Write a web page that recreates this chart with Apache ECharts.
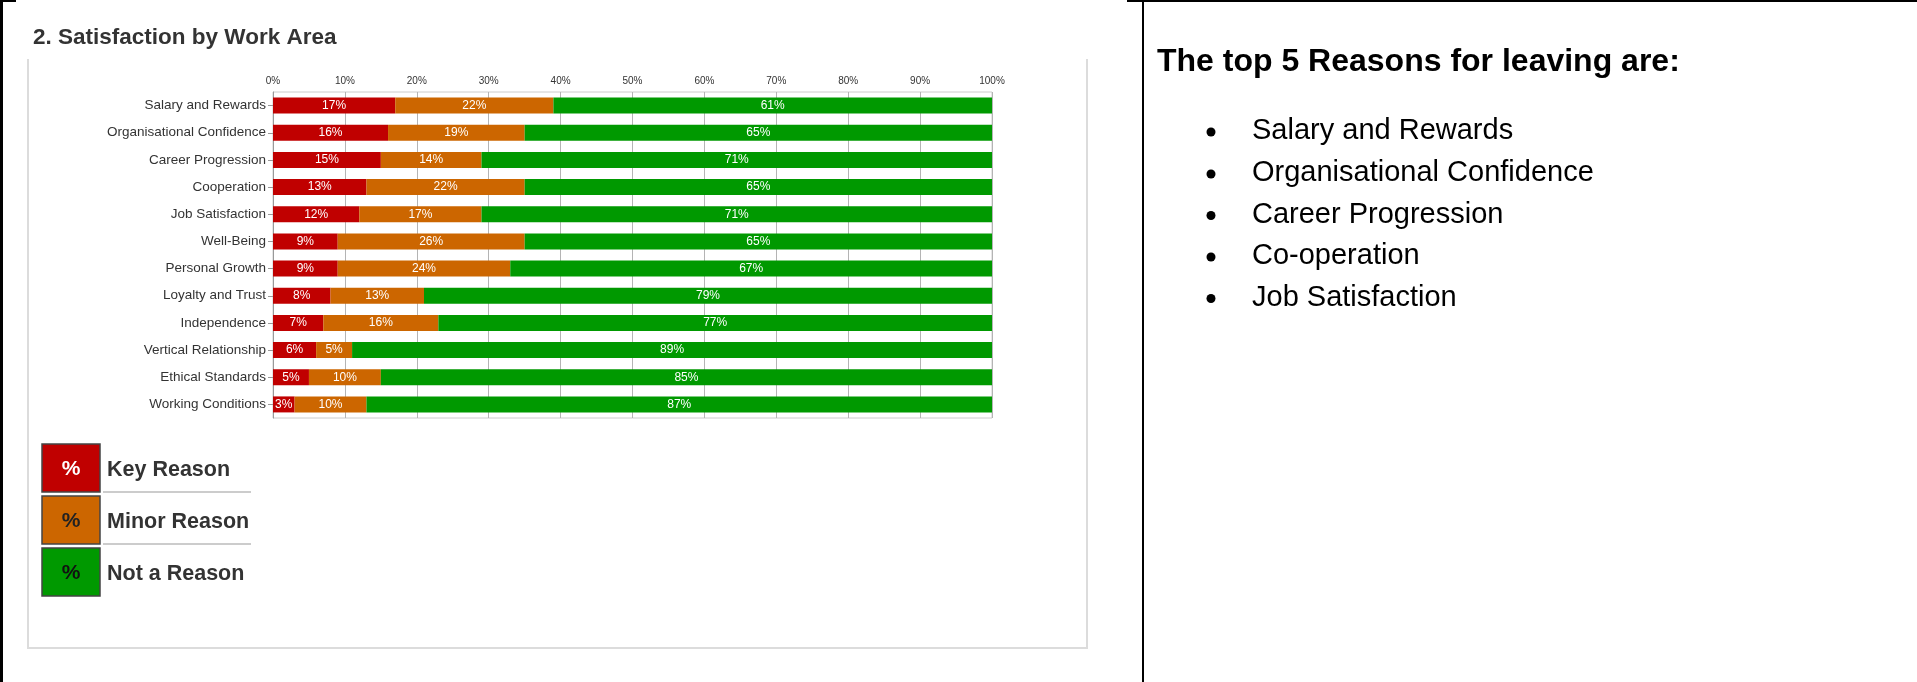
<!DOCTYPE html>
<html>
<head>
<meta charset="utf-8">
<script src="https://cdn.jsdelivr.net/npm/echarts@6/dist/echarts.min.js"></script>
<style>
html,body{margin:0;padding:0;background:#fff;}
#chart{width:1917px;height:682px;}
</style>
</head>
<body>
<div id="chart"></div>
<script>
// ---- data ----
const categories = ['Salary and Rewards','Organisational Confidence','Career Progression','Cooperation','Job Satisfaction','Well-Being','Personal Growth','Loyalty and Trust','Independence','Vertical Relationship','Ethical Standards','Working Conditions'];
const keyReason   = [17,16,15,13,12,9,9,8,7,6,5,3];
const minorReason = [22,19,14,22,17,26,24,13,16,5,10,10];
const notReason   = [61,65,71,65,71,65,67,79,77,89,85,87];
const seriesNames = ['Key Reason','Minor Reason','Not a Reason'];
const topReasons  = ['Salary and Rewards','Organisational Confidence','Career Progression','Co-operation','Job Satisfaction'];
const chartTitle  = '2. Satisfaction by Work Area';
const sideTitle   = 'The top 5 Reasons for leaving are:';

const FONT = "'Liberation Sans', Arial, Helvetica, sans-serif";
const colors = ['#c00000','#cc6600','#009900'];
const pctColors = ['#ffffff','#222222','#111111'];

const chart = echarts.init(document.getElementById('chart'), null, {renderer:'canvas'});

function barSeries(name, data, color){
  return {
    name, type:'bar', stack:'total', data,
    barWidth: 16,
    itemStyle:{color},
    label:{show:true, position:'inside', formatter:'{c}%', color:'#ffffff', fontSize:12, fontFamily:FONT},
    emphasis:{disabled:true}
  };
}

const graphics = [];
// page borders
graphics.push({type:'rect', shape:{x:0,y:0,width:3,height:682}, style:{fill:'#000'}, silent:true});
graphics.push({type:'rect', shape:{x:0,y:0,width:16,height:2}, style:{fill:'#000'}, silent:true});
graphics.push({type:'rect', shape:{x:1127,y:0,width:790,height:2}, style:{fill:'#000'}, silent:true});
graphics.push({type:'rect', shape:{x:1142,y:0,width:2,height:682}, style:{fill:'#000'}, silent:true});
// panel
graphics.push({type:'polyline', shape:{points:[[28,59],[28,648],[1087,648],[1087,59]]}, style:{stroke:'#dcdcdc', lineWidth:2, fill:null}, silent:true});
// chart title
graphics.push({type:'text', x:33, y:38, style:{text:chartTitle, font:"bold 22.5px "+FONT, fill:'#333', textAlign:'left', textVerticalAlign:'middle'}, silent:true});
// legend
const boxTop = [444, 496, 548];
seriesNames.forEach((n,i)=>{
  const y = boxTop[i];
  graphics.push({type:'rect', shape:{x:42,y:y,width:58,height:48}, style:{fill:colors[i], stroke:'#444', lineWidth:1.5}, silent:true});
  graphics.push({type:'text', x:71, y:y+25, style:{text:'%', font:"bold 21px "+FONT, fill:pctColors[i], textAlign:'center', textVerticalAlign:'middle'}, silent:true});
  graphics.push({type:'text', x:107, y:y+26, style:{text:n, font:"bold 21.5px "+FONT, fill:'#333', textAlign:'left', textVerticalAlign:'middle'}, silent:true});
  if(i<2){
    graphics.push({type:'line', shape:{x1:103,y1:y+48,x2:251,y2:y+48}, style:{stroke:'#cccccc', lineWidth:2}, silent:true});
  }
});
// right side text
graphics.push({type:'text', x:1157, y:62, style:{text:sideTitle, font:"bold 32px "+FONT, fill:'#000', textAlign:'left', textVerticalAlign:'middle'}, silent:true});
const rowY = [131, 173, 214.5, 256, 297.5];
topReasons.forEach((t,i)=>{
  graphics.push({type:'circle', shape:{cx:1211, cy:rowY[i]+1, r:4.5}, style:{fill:'#000'}, silent:true});
  graphics.push({type:'text', x:1252, y:rowY[i], style:{text:t, font:"29px "+FONT, fill:'#000', textAlign:'left', textVerticalAlign:'middle'}, silent:true});
});

chart.setOption({
  animation:false,
  backgroundColor:'#ffffff',
  textStyle:{fontFamily:FONT},
  grid:{left:273, top:92, width:719, height:326, show:true, borderColor:'#cccccc', borderWidth:1, containLabel:false},
  xAxis:{
    type:'value', position:'top', min:0, max:100, interval:10,
    axisLabel:{formatter:'{value}%', fontSize:10, color:'#333', margin:6, fontFamily:FONT},
    axisLine:{show:false}, axisTick:{show:false},
    splitLine:{show:true, lineStyle:{color:'#b4b4b4', width:1}}
  },
  yAxis:{
    type:'category', inverse:true, data:categories,
    axisLine:{show:true, lineStyle:{color:'#999'}},
    axisTick:{show:true, alignWithLabel:true, length:5, lineStyle:{color:'#999'}},
    axisLabel:{fontSize:13.5, color:'#333', margin:7, fontFamily:FONT},
    splitLine:{show:false}
  },
  series:[
    barSeries(seriesNames[0], keyReason, colors[0]),
    barSeries(seriesNames[1], minorReason, colors[1]),
    barSeries(seriesNames[2], notReason, colors[2])
  ],
  graphic:graphics
});
</script>
</body>
</html>
